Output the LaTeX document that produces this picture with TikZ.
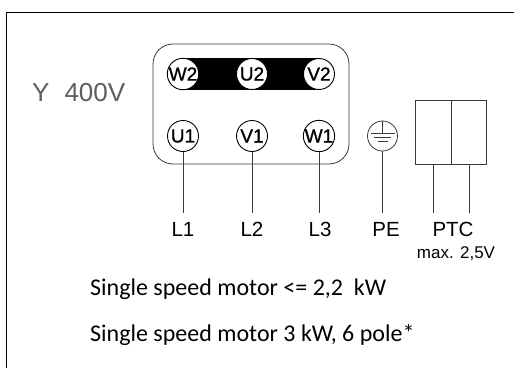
\documentclass[tikz,border=0pt]{standalone}
\usepackage{fontspec}
\setmainfont{Carlito}
\newfontfamily\arialf{Liberation Sans}
\newfontfamily\arialfb[FakeBold=1]{Liberation Sans}
\definecolor{linec}{HTML}{3A3A3A}
\definecolor{ygray}{HTML}{5E5E5E}
\begin{document}
\begin{tikzpicture}[x=1pt,y=-1pt,
  term/.style={circle, draw=black, fill=white, line width=0.9pt, minimum size=31pt, inner sep=0pt,
    font=\arialfb\fontsize{19}{19}\selectfont},
  wire/.style={draw=linec, line width=0.8pt},
  lab/.style={font=\arialf\fontsize{20.5}{20.5}\selectfont, inner sep=0pt, anchor=base},
  body/.style={font=\fontsize{24}{28}\selectfont, inner sep=0pt, anchor=base west},
  ptcbox/.style={rectangle, draw=linec, line width=0.8pt, minimum width=35.5pt, minimum height=64pt, inner sep=0pt}]
\useasboundingbox (0,0) rectangle (514,367);
\clip (0,0) rectangle (514,367);
% outer frame (continues beyond the right and bottom edges)
\coordinate (fTL) at (6.5,12.5);
\coordinate (fTR) at (530,12.5);
\coordinate (fBL) at (6.5,380);
\draw[line width=1.6pt] (fBL) -- (fTL) -- (fTR);
% Y 400V
\node[font=\arialf\fontsize{26}{26}\selectfont, text=ygray, inner sep=0pt, anchor=base west] (ylabel) at (32,101) {Y\hspace{15pt}400V};
% terminal box
\draw[linec, line width=0.8pt, rounded corners=20pt] (153,44) rectangle (349,164);
\fill[black] (183,58) rectangle (319,90);
\node[term] (W2) at (183,74) {W2};
\node[term] (U2) at (252,74) {U2};
\node[term] (V2) at (319,74) {V2};
\node[term] (U1) at (183,136) {U1};
\node[term] (V1) at (252,136) {V1};
\node[term] (W1) at (319,136) {W1};
% PE
\node[circle, draw=linec, line width=0.8pt, minimum size=30pt, inner sep=0pt] (PEc) at (382.5,136) {};
\draw[linec, line width=0.7pt] (PEc.north) -- ++(0,12.5)
  (370.5,133.5) -- (394.5,133.5)
  (374,137.5) -- (391,137.5)
  (377.5,141) -- (387.5,141);
% PTC box
\node[ptcbox] (ptcA) at (433.5,132) {};
\node[ptcbox] (ptcB) at (469,132) {};
% line ends
\coordinate (eL1) at (183,213);
\coordinate (eL2) at (252,213);
\coordinate (eL3) at (319,213);
\coordinate (ePE) at (382.5,213);
\coordinate (eP1) at (433.5,213);
\coordinate (eP2) at (469,213);
\draw[wire] (U1.south) -- (eL1);
\draw[wire] (V1.south) -- (eL2);
\draw[wire] (W1.south) -- (eL3);
\draw[wire] (PEc.south) -- (ePE);
\draw[wire] (ptcA.south) -- (eP1);
\draw[wire] (ptcB.south) -- (eP2);
% labels
\node[lab] (L1) at (183,236) {L1};
\node[lab] (L2) at (252,236) {L2};
\node[lab] (L3) at (320,236) {L3};
\node[lab] (PE) at (386,236) {PE};
\node[lab] (PTC) at (453,236) {PTC};
\node[font=\arialf\fontsize{17}{17}\selectfont, inner sep=0pt, anchor=base] (max) at (456,258) {max. 2,5V};
% body text
\node[body] (t1) at (90,295) {Single speed motor <= 2,2 \ kW};
\node[body] (t2) at (90,341) {Single speed motor 3 kW, 6 pole*};
\end{tikzpicture}
\end{document}
